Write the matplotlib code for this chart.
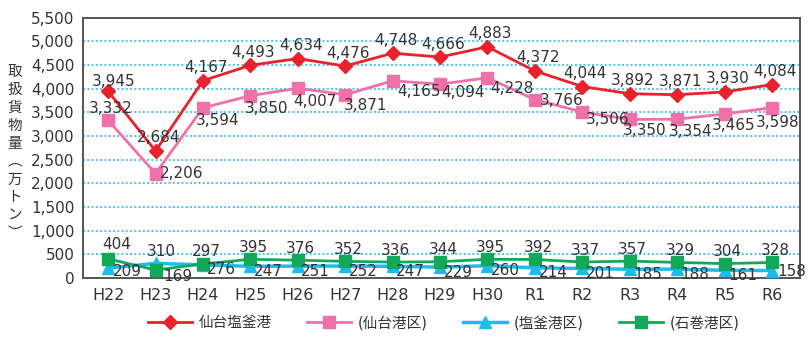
import matplotlib.pyplot as plt

plt.rcParams['font.family'] = ['DejaVu Sans', 'Noto Sans CJK JP']

years = ['H22', 'H23', 'H24', 'H25', 'H26', 'H27', 'H28', 'H29', 'H30',
         'R1', 'R2', 'R3', 'R4', 'R5', 'R6']
total = [3945, 2684, 4167, 4493, 4634, 4476, 4748, 4666, 4883,
         4372, 4044, 3892, 3871, 3930, 4084]
sendai = [3332, 2206, 3594, 3850, 4007, 3871, 4165, 4094, 4228,
          3766, 3506, 3350, 3354, 3465, 3598]
shiogama = [209, 310, 276, 247, 251, 252, 247, 229, 260,
            214, 201, 185, 188, 161, 158]
ishinomaki = [404, 169, 297, 395, 376, 352, 336, 344, 395,
              392, 337, 357, 329, 304, 328]

# label offsets in pixels (dx, dy), dy positive = up
red_off = [(6, 10)] + [(3, 13)] * 14
pink_off = [(3, 12), (26, 0), (15, -13), (16, -13), (17, -13), (20, -11),
            (26, -11), (23, -8), (24, -11), (27, -1), (25, -8), (15, -11),
            (13, -12), (9, -12), (6, -15)]
cyan_off = [(19, -3), (6, 12)] + [(18, -5)] * 12 + [(20, -1)]
green_off = [(9, 14), (22, -6)] + [(3, 12)] * 13

red = '#e8222a'
pink = '#f070aa'
cyan = '#1dbcee'
green = '#12a85a'
txt = '#333333'

fig = plt.figure(figsize=(8.11, 3.38), dpi=100)
ax = fig.add_axes([0.1023, 0.1775, 0.8841, 0.7705])

x = list(range(len(years)))
ax.plot(x, total, color=red, lw=2, marker='D', ms=7, zorder=5, label='仙台塩釜港')
ax.plot(x, sendai, color=pink, lw=2, marker='s', ms=9, zorder=4, label='(仙台港区)')
ax.plot(x, shiogama, color=cyan, lw=2.5, marker='^', ms=9, zorder=3, label='(塩釜港区)')
ax.plot(x, ishinomaki, color=green, lw=2, marker='s', ms=8.5, zorder=4, label='(石巻港区)')

def put_labels(vals, offs):
    for i, v in enumerate(vals):
        ax.annotate(f'{v:,}', (i, v), xytext=offs[i], textcoords='offset pixels',
                    ha='center', va='center', fontsize=11, color=txt, zorder=6)

put_labels(total, red_off)
put_labels(sendai, pink_off)
put_labels(shiogama, cyan_off)
put_labels(ishinomaki, green_off)

ax.set_xlim(-0.53, 14.59)
ax.set_ylim(0, 5500)
ax.set_yticks(range(0, 5501, 500))
ax.set_yticklabels([f'{v:,}' for v in range(0, 5501, 500)])
ax.set_xticks(x)
ax.set_xticklabels(years)
ax.tick_params(length=0, labelcolor=txt)
ax.tick_params(axis='y', pad=6, labelsize=11)
ax.tick_params(axis='x', pad=7, labelsize=11.5)

for v in range(500, 5001, 500):
    ax.axhline(v, color='#4cc3ee', lw=1.4, ls=(0, (1, 1.2)), zorder=1)

for s in ax.spines.values():
    s.set_color('#555555')
    s.set_linewidth(1.4)

# vertical axis title, one character per row
ylabel = ['取', '扱', '貨', '物', '量', '︵', '万', 'ト', 'ン', '︶']
for k, ch in enumerate(ylabel):
    fig.text(15 / 811, 1 - (72 + k * 17.9) / 338, ch, ha='center', va='center',
             fontsize=10.5, color=txt, family='Noto Sans CJK JP')

fig.legend(loc='center', bbox_to_anchor=(444 / 811, 1 - 323 / 338), ncol=4,
           frameon=False, handlelength=3, handletextpad=0.5,
           columnspacing=2.4, labelcolor=txt,
           prop={'family': ['DejaVu Sans', 'Noto Sans CJK JP'], 'size': 10.5})

fig.savefig('out.png', dpi=100)
